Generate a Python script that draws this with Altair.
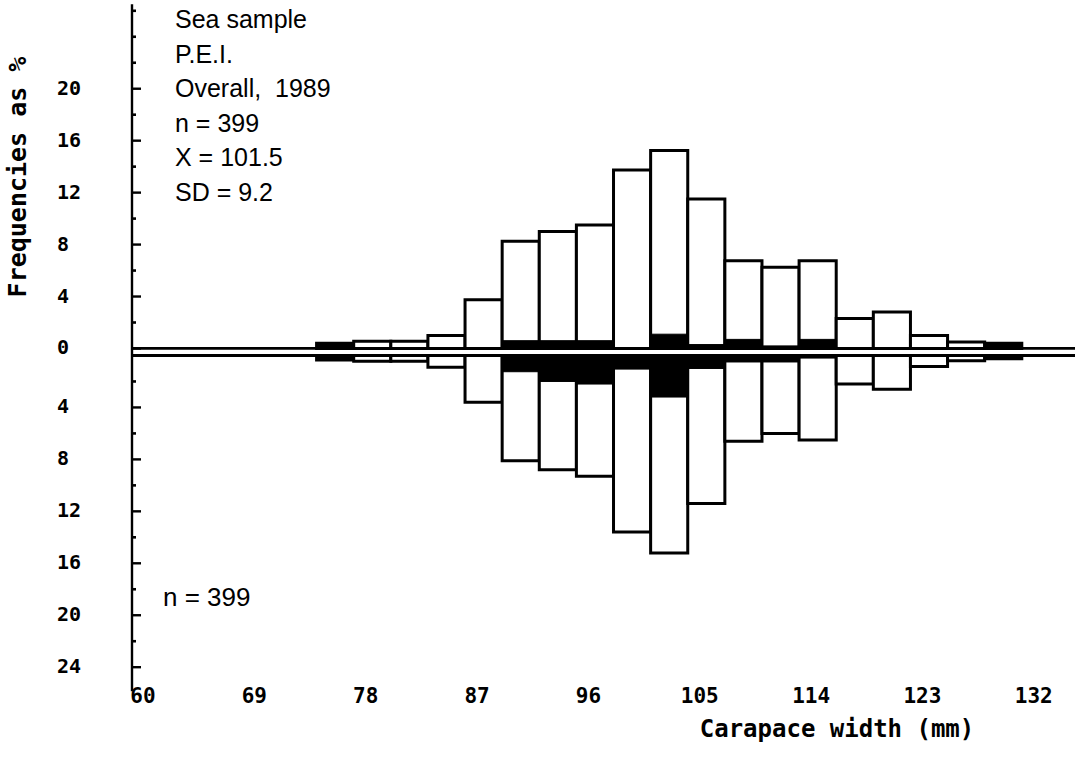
import altair as alt
import pandas as pd

# ---------------- data ----------------
bin_start = [75, 78, 81, 84, 87, 90, 93, 96, 99, 102, 105, 108, 111, 114, 117, 120, 123, 126, 129]
bin_width = 3
# upper histogram: total % and black (shaded) part
upper_total = [0.4, 0.55, 0.55, 1.0, 3.75, 8.25, 9.0, 9.5, 13.75, 15.25, 11.5, 6.75, 6.25, 6.75, 2.3, 2.8, 1.0, 0.5, 0.4]
upper_black = [0.4, 0, 0, 0, 0, 0.6, 0.6, 0.6, 0, 1.1, 0.3, 0.7, 0.2, 0.7, 0, 0, 0, 0, 0.4]
# lower histogram (drawn downward)
lower_total = [0.35, 0.45, 0.45, 0.9, 3.6, 8.1, 8.8, 9.3, 13.6, 15.2, 11.4, 6.6, 6.0, 6.5, 2.2, 2.6, 0.85, 0.4, 0.25]
lower_black = [0.35, 0, 0, 0, 0, 1.25, 2.0, 2.2, 1.05, 3.2, 1.0, 0.5, 0.5, 0.2, 0, 0, 0, 0, 0.25]

x_ticks = [60, 69, 78, 87, 96, 105, 114, 123, 132]
y_upper_labels = [0, 4, 8, 12, 16, 20]
y_upper_minor = [2, 6, 10, 14, 18, 22, 24, 26]
y_lower_labels = [4, 8, 12, 16, 20, 24]
y_lower_minor = [2, 6, 10, 14, 18, 22]

info_lines = ["Sea sample", "P.E.I.", "Overall,\u00a0 1989", "n = 399", "X = 101.5", "SD = 9.2"]
n_text = "n = 399"
x_title = "Carapace width (mm)"
y_title = "Frequencies as %"

GAP = 0.54  # separation between upper and lower baselines (in % units)

# ---------------- tables ----------------
starts = pd.Series(bin_start, dtype=float)
ends = starts + bin_width
ut = pd.Series(upper_total, dtype=float)
ub = pd.Series(upper_black, dtype=float)
lt_ = pd.Series(lower_total, dtype=float)
lb = pd.Series(lower_black, dtype=float)

up_white = pd.DataFrame({"start": starts, "end": ends, "y0": 0.0, "y1": ut})
up_black = pd.DataFrame({"start": starts, "end": ends, "y0": 0.0, "y1": ub})
up_black = up_black[up_black["y1"] > 0]
lo_white = pd.DataFrame({"start": starts, "end": ends, "y0": -GAP, "y1": -(GAP + lt_)})
lo_black = pd.DataFrame({"start": starts, "end": ends, "y0": -GAP, "y1": -(GAP + lb)})
lo_black = lo_black[lo_black["y1"] < -GAP]

xs = alt.Scale(domain=[60, 136.3], nice=False, zero=False)
ys = alt.Scale(domain=[-26.45, 26.6], nice=False, zero=False)

def X(f):
    return alt.X(f, type="quantitative", scale=xs, axis=None)

def Y(f):
    return alt.Y(f, type="quantitative", scale=ys, axis=None)

white_bars = alt.Chart(pd.concat([up_white, lo_white])).mark_rect(
    fill="white", stroke="black", strokeWidth=3
).encode(x=X("start"), x2="end", y=Y("y0"), y2="y1")

black_bars = alt.Chart(pd.concat([up_black, lo_black])).mark_rect(
    fill="black", stroke="black", strokeWidth=1
).encode(x=X("start"), x2="end", y=Y("y0"), y2="y1")

zero_lines = alt.Chart(pd.DataFrame({"y": [0.0, -GAP]})).mark_rule(
    color="black", strokeWidth=2.8
).encode(y=Y("y"), x=alt.value(0), x2=alt.value(944))

axis_line = alt.Chart(pd.DataFrame({"a": [26.5], "b": [-26.4]})).mark_rule(
    color="black", strokeWidth=2.4
).encode(x=alt.value(1), y=Y("a"), y2="b")

major_pos = y_upper_labels + [-(v + GAP) for v in y_lower_labels]
minor_pos = y_upper_minor + [-(v + GAP) for v in y_lower_minor]
major_ticks = alt.Chart(pd.DataFrame({"p": major_pos})).mark_rule(
    color="black", strokeWidth=2.4
).encode(y=Y("p"), x=alt.value(1), x2=alt.value(10))
minor_ticks = alt.Chart(pd.DataFrame({"p": minor_pos})).mark_rule(
    color="black", strokeWidth=2.6
).encode(y=Y("p"), x=alt.value(1), x2=alt.value(5))

ylab_df = pd.DataFrame({
    "p": major_pos,
    "t": [str(v) for v in y_upper_labels] + [str(v) for v in y_lower_labels],
})
y_labels = alt.Chart(ylab_df).mark_text(
    align="left", baseline="middle", font="DejaVu Sans Mono", fontWeight="bold",
    fontSize=20, color="black"
).encode(y=Y("p"), x=alt.value(-74), text="t:N")

x_labels = alt.Chart(pd.DataFrame({"v": x_ticks})).mark_text(
    align="center", baseline="middle", font="DejaVu Sans Mono", fontWeight="bold",
    fontSize=21, color="black", dx=12
).encode(x=X("v"), y=alt.value(694), text="v:Q")

one = pd.DataFrame({"a": [0]})
x_title_mark = alt.Chart(one).mark_text(
    align="center", baseline="middle", font="DejaVu Sans Mono", fontWeight="bold",
    fontSize=24, color="black"
).encode(x=alt.value(706), y=alt.value(727), text=alt.value(x_title))

y_title_mark = alt.Chart(one).mark_text(
    align="center", baseline="middle", font="DejaVu Sans Mono", fontWeight="bold",
    fontSize=25, color="black", angle=270
).encode(x=alt.value(-113), y=alt.value(174), text=alt.value(y_title))

info = alt.Chart(one).mark_text(
    align="left", baseline="alphabetic", font="Liberation Sans", fontSize=25,
    color="black", lineHeight=34.5
).encode(x=alt.value(44), y=alt.value(25), text=alt.value(info_lines))

n_mark = alt.Chart(one).mark_text(
    align="left", baseline="middle", font="Liberation Sans", fontSize=26, color="black"
).encode(x=alt.value(32), y=alt.value(595), text=alt.value(n_text))

chart = alt.layer(
    white_bars, black_bars, zero_lines, axis_line, major_ticks, minor_ticks,
    y_labels, x_labels, x_title_mark, y_title_mark, info, n_mark
).properties(
    width=944, height=689,
    padding={"left": 131, "top": 3, "right": 0, "bottom": 68},
    autosize=alt.AutoSizeParams(type="none"),
    background="white",
).configure_view(stroke=None)

chart.save("out.html", embed_options={"renderer": "svg", "actions": False})
